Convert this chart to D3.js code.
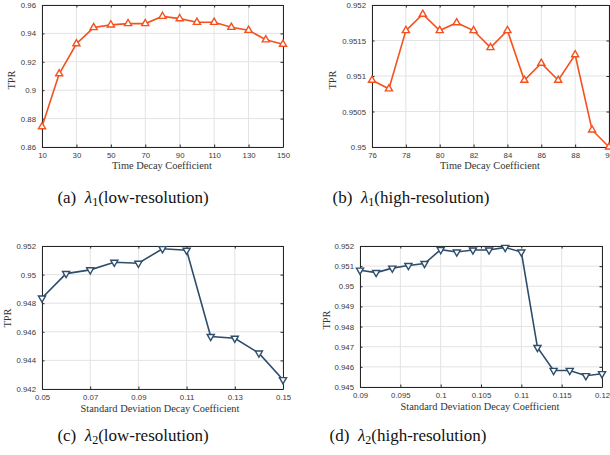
<!DOCTYPE html>
<html>
<head>
<meta charset="utf-8">
<script src="https://cdn.jsdelivr.net/npm/d3@7"></script>
<style>
  body { margin: 0; background: #fff; }
  svg { display: block; }
</style>
</head>
<body>
<svg id="chart" width="610" height="455"></svg>
<script>
// (a) lambda1 low-resolution
var timeLowX = [10, 20, 30, 40, 50, 60, 70, 80, 90, 100, 110, 120, 130, 140, 150];
var timeLowTPR = [0.8743, 0.9116, 0.9327, 0.9441, 0.946, 0.9469, 0.9469, 0.952, 0.9504, 0.9478, 0.9478, 0.9443, 0.9422, 0.9355, 0.9324];
var timeLowXTicks = [10, 30, 50, 70, 90, 110, 130, 150];
var timeLowYTicks = [0.86, 0.88, 0.9, 0.92, 0.94, 0.96];

// (b) lambda1 high-resolution
var timeHighX = [76, 77, 78, 79, 80, 81, 82, 83, 84, 85, 86, 87, 88, 89, 90];
var timeHighTPR = [0.95094, 0.95082, 0.95164, 0.95187, 0.95164, 0.95175, 0.95164, 0.9514, 0.95164, 0.95094, 0.95118, 0.95094, 0.9513, 0.95024, 0.95];
var timeHighXTicks = [76, 78, 80, 82, 84, 86, 88, 90];
var timeHighYTicks = [0.95, 0.9505, 0.951, 0.9515, 0.952];

// (c) lambda2 low-resolution
var sdLowX = [0.05, 0.06, 0.07, 0.08, 0.09, 0.1, 0.11, 0.12, 0.13, 0.14, 0.15];
var sdLowTPR = [0.94836, 0.95007, 0.95033, 0.95086, 0.95079, 0.95181, 0.9517, 0.94567, 0.94555, 0.94451, 0.94265];
var sdLowXTicks = [0.05, 0.07, 0.09, 0.11, 0.13, 0.15];
var sdLowYTicks = [0.942, 0.944, 0.946, 0.948, 0.95, 0.952];

// (d) lambda2 high-resolution
var sdHighX = [0.09, 0.092, 0.094, 0.096, 0.098, 0.1, 0.102, 0.104, 0.106, 0.108, 0.11, 0.112, 0.114, 0.116, 0.118, 0.12];
var sdHighTPR = [0.9508, 0.95068, 0.9509, 0.95103, 0.95113, 0.95182, 0.9517, 0.9518, 0.9518, 0.95193, 0.9517, 0.94696, 0.94582, 0.94582, 0.94556, 0.94566];
var sdHighXTicks = [0.09, 0.095, 0.1, 0.105, 0.11, 0.115, 0.12];
var sdHighYTicks = [0.945, 0.946, 0.947, 0.948, 0.949, 0.95, 0.951, 0.952];

var orange = "#f4511e";
var navy = "#2e4d6b";
var serif = "'Liberation Serif', 'Times New Roman', serif";
var sans = "'Liberation Sans', Arial, sans-serif";

// layout of each panel (plot box in px)
var panels = [
  {x: timeLowX, y: timeLowTPR, xt: timeLowXTicks, yt: timeLowYTicks, xd: [10, 150], yd: [0.86, 0.96],
   box: [42, 5, 283, 147], color: orange, flip: false,
   xlab: "Time Decay Coefficient", xlabPos: [162, 167], tprPos: [13, 80],
   cap: ["(a)", "1", "(low-resolution)"], capPos: [133, 203]},
  {x: timeHighX, y: timeHighTPR, xt: timeHighXTicks, yt: timeHighYTicks, xd: [76, 90], yd: [0.95, 0.952],
   box: [372, 5, 609, 147], color: orange, flip: false,
   xlab: "Time Decay Coefficient", xlabPos: [490, 167], tprPos: [334, 80],
   cap: ["(b)", "1", "(high-resolution)"], capPos: [411, 203]},
  {x: sdLowX, y: sdLowTPR, xt: sdLowXTicks, yt: sdLowYTicks, xd: [0.05, 0.15], yd: [0.942, 0.952],
   box: [42, 246, 283, 389], color: navy, flip: true,
   xlab: "Standard Deviation Decay Coefficient", xlabPos: [160, 410], tprPos: [9, 318],
   cap: ["(c)", "2", "(low-resolution)"], capPos: [133, 441]},
  {x: sdHighX, y: sdHighTPR, xt: sdHighXTicks, yt: sdHighYTicks, xd: [0.09, 0.12], yd: [0.945, 0.952],
   box: [360, 246, 602, 387], color: navy, flip: true,
   xlab: "Standard Deviation Decay Coefficient", xlabPos: [480, 408], tprPos: [328, 320],
   cap: ["(d)", "2", "(high-resolution)"], capPos: [408, 441]}
];

var svg = d3.select("#chart");

function fmt(v) {
  // matlab style: no trailing zeros
  return String(+v.toPrecision(6));
}

panels.forEach(function(p) {
  var x0 = p.box[0], y0 = p.box[1], x1 = p.box[2], y1 = p.box[3];
  var xs = d3.scaleLinear().domain(p.xd).range([x0, x1]);
  var ys = d3.scaleLinear().domain(p.yd).range([y1, y0]);
  var g = svg.append("g");

  // grid
  g.selectAll(".vg").data(p.xt).enter().append("line")
    .attr("x1", d => xs(d)).attr("x2", d => xs(d))
    .attr("y1", y0).attr("y2", y1)
    .attr("stroke", "#e3e3e3").attr("stroke-width", 1);
  g.selectAll(".hg").data(p.yt).enter().append("line")
    .attr("y1", d => ys(d)).attr("y2", d => ys(d))
    .attr("x1", x0).attr("x2", x1)
    .attr("stroke", "#e3e3e3").attr("stroke-width", 1);

  // axes, ticks pointing inward on all four sides
  var ax = g.append("g").attr("transform", "translate(0," + y1 + ")")
    .call(d3.axisBottom(xs).tickValues(p.xt).tickFormat(fmt).tickSizeInner(-2.5).tickSizeOuter(0).tickPadding(6));
  var ay = g.append("g").attr("transform", "translate(" + x0 + ",0)")
    .call(d3.axisLeft(ys).tickValues(p.yt).tickFormat(fmt).tickSizeInner(-2.5).tickSizeOuter(0).tickPadding(6));
  var axt = g.append("g").attr("transform", "translate(0," + y0 + ")")
    .call(d3.axisTop(xs).tickValues(p.xt).tickFormat("").tickSizeInner(-2.5).tickSizeOuter(0));
  var ayr = g.append("g").attr("transform", "translate(" + x1 + ",0)")
    .call(d3.axisRight(ys).tickValues(p.yt).tickFormat("").tickSizeInner(-2.5).tickSizeOuter(0));
  [ax, ay, axt, ayr].forEach(function(a) {
    a.select(".domain").attr("stroke", "#262626").attr("stroke-width", 1);
    a.selectAll(".tick line").attr("stroke", "#262626");
    a.selectAll(".tick text").style("font-family", sans).attr("font-size", 7.8).attr("fill", "#3a3a3a");
  });
  ax.selectAll(".tick text").attr("dy", "0.6em");

  // line
  var line = d3.line().x(d => xs(d[0])).y(d => ys(d[1]));
  var pts = p.x.map((v, i) => [v, p.y[i]]);
  g.append("path").datum(pts).attr("d", line)
    .attr("fill", "none").attr("stroke", p.color).attr("stroke-width", 1.6);

  // markers
  var sym = d3.symbol().type(d3.symbolTriangle).size(22);
  g.selectAll(".mk").data(pts).enter().append("path")
    .attr("d", sym)
    .attr("transform", d => "translate(" + xs(d[0]) + "," + ys(d[1]) + ")" + (p.flip ? " rotate(180)" : ""))
    .attr("fill", "#fff").attr("stroke", p.color).attr("stroke-width", 1.4);

  // axis labels
  g.append("text").style("font-family", serif).attr("x", p.xlabPos[0]).attr("y", p.xlabPos[1])
    .attr("text-anchor", "middle").attr("dominant-baseline", "middle")
    .attr("font-size", 10.4).attr("fill", "#333").text(p.xlab);
  g.append("text").style("font-family", serif)
    .attr("transform", "translate(" + p.tprPos[0] + "," + p.tprPos[1] + ") rotate(-90)")
    .attr("text-anchor", "middle").attr("dominant-baseline", "middle")
    .attr("font-size", 10.4).attr("fill", "#333").text("TPR");

  // caption
  var cap = svg.append("text").style("font-family", serif).attr("x", p.capPos[0]).attr("y", p.capPos[1])
    .attr("text-anchor", "middle").attr("font-size", 17).attr("fill", "#111");
  cap.append("tspan").text(p.cap[0] + "\u00a0\u00a0");
  cap.append("tspan").attr("font-style", "italic").text("\u03bb");
  cap.append("tspan").attr("font-size", 12).attr("dy", 3).text(p.cap[1]);
  cap.append("tspan").attr("dy", -3).text(p.cap[2]);
});
</script>
</body>
</html>
